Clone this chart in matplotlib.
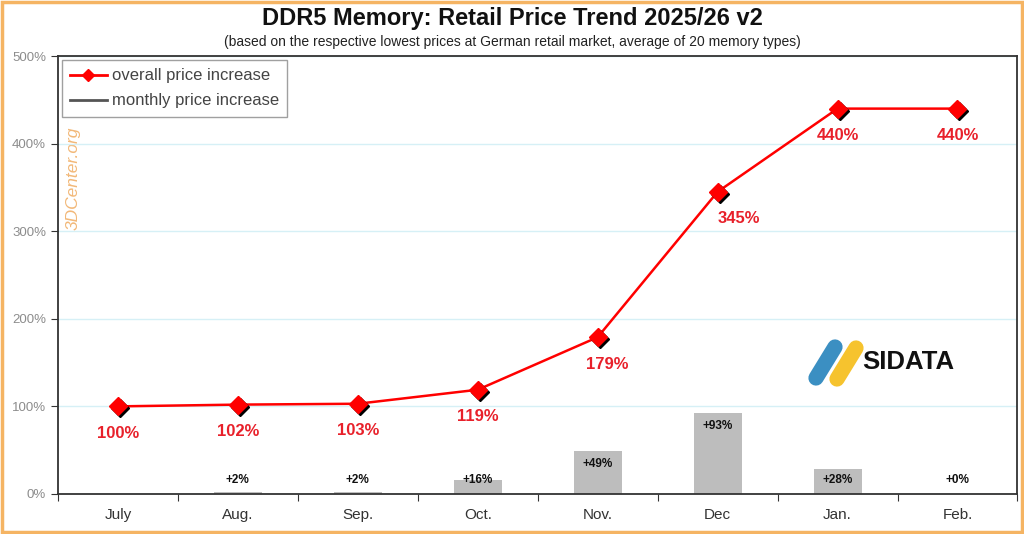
import numpy as np
import matplotlib.pyplot as plt
import matplotlib.transforms as mtransforms
from matplotlib.lines import Line2D
from matplotlib.patches import Rectangle

plt.rcParams["font.family"] = ["Liberation Sans", "DejaVu Sans"]

months = ["July", "Aug.", "Sep.", "Oct.", "Nov.", "Dec", "Jan.", "Feb."]
overall = [100, 102, 103, 119, 179, 345, 440, 440]
monthly = [None, 2, 2, 16, 49, 93, 28, 0]

fig = plt.figure(figsize=(10.24, 5.34), dpi=100)
ax = fig.add_axes([0.0566, 0.075, 0.937, 0.82])

x = np.arange(len(months))

# balken monatlich
bar_x = [i for i, v in enumerate(monthly) if v is not None]
bar_v = [v for v in monthly if v is not None]
ax.bar(bar_x, bar_v, width=0.4, color="#bdbdbd", zorder=2)
for i, v in zip(bar_x, bar_v):
    ax.text(i, max(v - 15, 16), f"+{v}%", ha="center", va="center",
            fontsize=8.5, fontweight="bold", color="#111111", zorder=5)

# linie gesamt, mit schatten unter den rauten
ax.plot(x, overall, color="#ff0000", lw=1.8, zorder=3)
shadow = ax.transData + mtransforms.ScaledTranslation(2 / 100, -2 / 100, fig.dpi_scale_trans)
ax.plot(x, overall, ls="none", marker="D", ms=9, color="black", transform=shadow, zorder=3)
ax.plot(x, overall, ls="none", marker="D", ms=9, color="#ff0000", zorder=4)
label_dx = [0, 0, 0, 0, 0.08, 0.18, 0, 0]
for i, v in enumerate(overall):
    ax.text(i + label_dx[i], v - 31, f"{v}%", ha="center", va="center", fontsize=12,
            fontweight="bold", color="#e8202a", zorder=5)

ax.set_xlim(-0.5, len(months) - 0.5)
ax.set_ylim(0, 500)
ax.set_yticks(np.arange(0, 501, 100))
ax.set_yticklabels([f"{t}%" for t in range(0, 501, 100)])
ax.tick_params(axis="y", colors="#333333", labelcolor="#8c8c8c", labelsize=9.5,
               length=5, direction="out")
ax.grid(axis="y", color="#d6f0f6", lw=1, zorder=0)

ax.set_xticks(np.arange(-0.5, len(months) - 0.4, 1))
ax.set_xticklabels([])
ax.tick_params(axis="x", which="major", length=5, direction="out", colors="#333333")
ax.set_xticks(x, minor=True)
ax.set_xticklabels(months, minor=True)
ax.tick_params(axis="x", which="minor", length=0, labelsize=11,
               labelcolor="#333333", pad=10)

for s in ax.spines.values():
    s.set_color("#333333")
    s.set_linewidth(1.3)

fig.text(0.5, 0.966, "DDR5 Memory: Retail Price Trend 2025/26 v2", ha="center",
         va="center", fontsize=17, fontweight="bold", color="#111111")
fig.text(0.5, 0.921,
         "(based on the respective lowest prices at German retail market, average of 20 memory types)",
         ha="center", va="center", fontsize=10, color="#222222")

handles = [
    Line2D([], [], color="#ff0000", lw=2, marker="D", ms=6),
    Line2D([], [], color="#555555", lw=2),
]
leg = ax.legend(handles, ["overall price increase", "monthly price increase"],
                loc="upper left", bbox_to_anchor=(0.004, 0.991), borderaxespad=0,
                fontsize=12, frameon=True, fancybox=False, edgecolor="#888888",
                handlelength=2.2, handletextpad=0.3, borderpad=0.5,
                labelspacing=0.6, labelcolor="#444444")
leg.get_frame().set_linewidth(1.0)

# wasserzeichen
ax.text(0.016, 0.72, "3DCenter.org", transform=ax.transAxes, rotation=90,
        ha="center", va="center", fontsize=12.5, style="italic",
        color="#f2b878", zorder=1)

# logo
fig.add_artist(Line2D([816 / 1024, 835 / 1024], [1 - 378 / 534, 1 - 347 / 534],
                      color="#3b8fc2", lw=11, solid_capstyle="round"))
fig.add_artist(Line2D([837 / 1024, 856 / 1024], [1 - 379 / 534, 1 - 348 / 534],
                      color="#f6c32e", lw=11, solid_capstyle="round"))
fig.text(862 / 1024, 1 - 362 / 534, "SIDATA", ha="left", va="center",
         fontsize=18.5, fontweight="bold", color="#111111")

# rahmen
fig.add_artist(Rectangle((0.0015, 0.003), 0.997, 0.994, transform=fig.transFigure,
                         fill=False, edgecolor="#f5b463", lw=2.5))

fig.savefig("out.png", dpi=100)
